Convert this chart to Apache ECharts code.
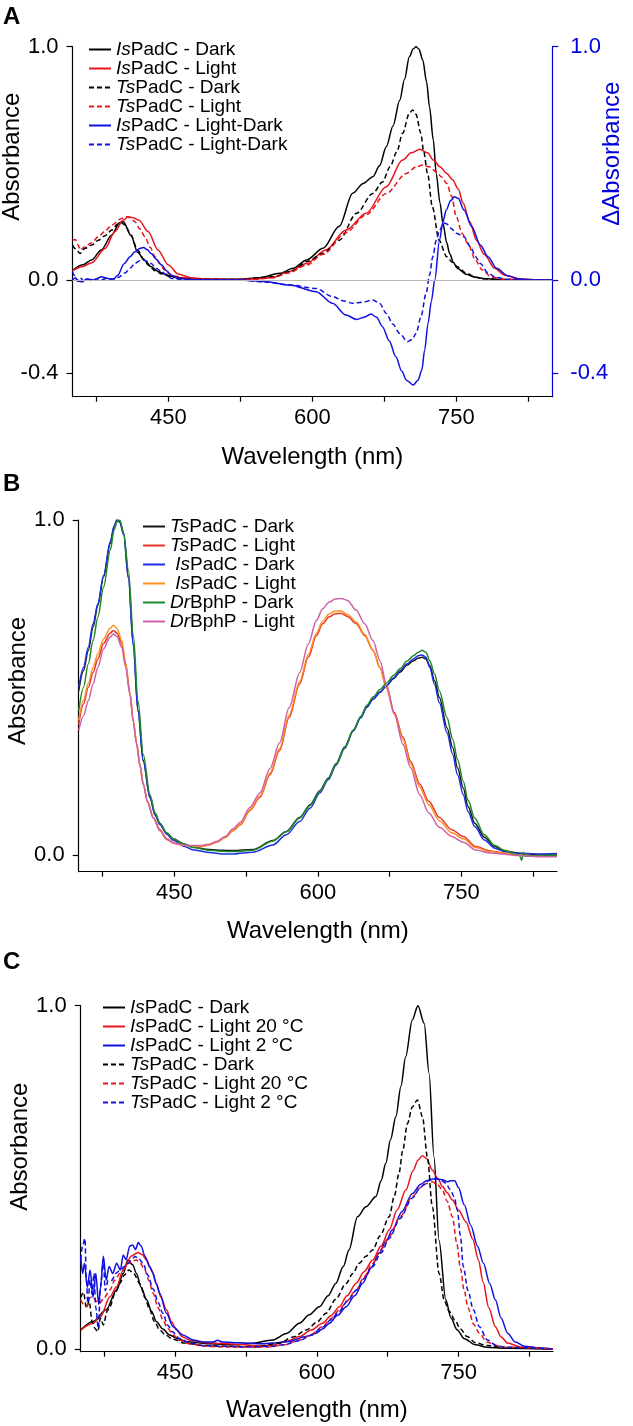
<!DOCTYPE html>
<html><head><meta charset="utf-8">
<script src="https://cdn.jsdelivr.net/npm/echarts@6/dist/echarts.min.js"></script>
<style>html,body{margin:0;padding:0;background:#fff}#c{width:633px;height:1426px}</style>
</head><body><div id="c"></div>
<script>
// ---------------- Panel A ----------------
const A_IsDark_nm = [350,360,370,380,391,399,403,411,418,425,432,440,446,453,460,477,500,524,545,566,580,594,611,628,642,653,663,670,677,684,691,696,701,705,708,711,715,719,722,726,729,733,736,740,743,747,751,760,770,780,800,850];
const A_IsDark = [0.040,0.064,0.086,0.129,0.193,0.246,0.250,0.190,0.118,0.085,0.057,0.036,0.026,0.016,0.010,0.005,0.003,0.003,0.010,0.029,0.050,0.086,0.136,0.230,0.372,0.414,0.443,0.490,0.571,0.660,0.770,0.860,0.957,0.990,1.000,0.990,0.943,0.850,0.743,0.600,0.457,0.330,0.243,0.160,0.114,0.075,0.050,0.025,0.012,0.005,0.002,0.000];
const A_IsLight_nm = [350,360,370,384,394,403,408,414,419,429,439,450,460,474,490,520,540,559,575,594,614,635,656,677,694,703,712,720,726,733,740,746,752,757,764,771,779,790,800,815,835,850];
const A_IsLight = [0.040,0.057,0.074,0.135,0.207,0.257,0.271,0.266,0.257,0.207,0.129,0.064,0.026,0.010,0.004,0.002,0.004,0.011,0.035,0.071,0.129,0.214,0.286,0.400,0.514,0.545,0.560,0.545,0.514,0.485,0.457,0.430,0.390,0.330,0.250,0.170,0.110,0.050,0.022,0.006,0.001,0.000];
const A_TsDark_nm = [350,354,358,363,370,377,384,391,397,401,405,410,418,424,429,436,443,452,460,480,520,559,580,594,611,628,646,663,673,681,688,694,701,704.5,708,713,716,720,725,732,740,746,751,760,770,780,800,850];
const A_TsDark = [0.150,0.130,0.114,0.136,0.150,0.171,0.190,0.214,0.240,0.245,0.235,0.200,0.129,0.090,0.064,0.040,0.026,0.014,0.009,0.004,0.002,0.014,0.040,0.079,0.114,0.171,0.286,0.371,0.420,0.486,0.550,0.629,0.714,0.729,0.710,0.629,0.550,0.457,0.314,0.171,0.100,0.075,0.057,0.030,0.012,0.005,0.001,0.000];
const A_TsLight_nm = [350,353,356,358,363,370,377,384,391,401,406,410,415,420,425.5,431,436,441,446,452,460,475,500,540,559,575,594,611,635,656,677,698,708,715,722,729,735,740,745,750,756,762,770,777,786,796,820,850];
const A_TsLight = [0.171,0.174,0.150,0.129,0.143,0.160,0.186,0.210,0.236,0.264,0.271,0.268,0.250,0.220,0.186,0.140,0.100,0.070,0.043,0.024,0.014,0.005,0.002,0.003,0.010,0.030,0.064,0.110,0.203,0.280,0.371,0.457,0.485,0.493,0.485,0.464,0.440,0.414,0.360,0.271,0.200,0.157,0.085,0.043,0.015,0.004,0.001,0.000];
const A_IsDiff_nm = [350,353,356,360,365,372,380,386,392,397,404,410,415,420,424,428,432,437,443,448,453,460,470,500,524,550,576,604,621,635,646,654,661,667,673,680,687,693,698,705,710,714,717,720.5,724,727.5,732.5,736,739.5,744,748,752,758,766,775,783,792,804,816,830,850];
const A_IsDiff = [0.000,0.010,-0.005,-0.007,0.004,0.000,0.014,0.008,0.000,0.020,0.071,0.100,0.121,0.135,0.139,0.130,0.114,0.090,0.064,0.040,0.021,0.008,0.002,0.000,0.000,-0.006,-0.021,-0.050,-0.100,-0.150,-0.169,-0.160,-0.146,-0.160,-0.200,-0.260,-0.329,-0.390,-0.429,-0.450,-0.430,-0.386,-0.300,-0.186,-0.090,0.000,0.171,0.250,0.300,0.340,0.357,0.350,0.300,0.229,0.150,0.100,0.050,0.017,0.004,0.000,0.000];
const A_TsDiff_nm = [350,352,355,358,362,366,370,375,380,385,392,398,404.6,410,415,420,424,428,432,437,443,448,453,465,500,524,550,576,604,621,633,642,652,663,670,677,684,691,699,704,708,713,718.5,722,725.5,729,732.5,737,740,745,750,758,765,770,775,783,791,805,850];
const A_TsDiff = [0.036,0.020,-0.005,0.010,-0.007,0.003,-0.003,0.005,0.000,0.007,0.005,0.012,0.030,0.050,0.071,0.083,0.086,0.080,0.071,0.050,0.036,0.020,0.007,0.002,0.000,0.000,-0.008,-0.021,-0.036,-0.071,-0.090,-0.100,-0.095,-0.086,-0.100,-0.143,-0.190,-0.229,-0.264,-0.255,-0.229,-0.160,-0.057,0.020,0.100,0.170,0.214,0.245,0.240,0.220,0.200,0.186,0.140,0.100,0.071,0.030,0.011,0.002,0.000];

// ---------------- Panel B ----------------
const B_Dark_nm = [350,355,360,365,370,376,383,387,390,393,397,402,407,412,417.5,424.5,430,435,442,449,460,470,487,500,512,532,553,567,581,592,602,611,619,628,637,645,651,658,665,672,679,686,693,700,705,709,713,717,722,727,735,741,746,752,757,764,774,785,795,810,830,850];
const B_TsDark = [0.490,0.550,0.610,0.680,0.745,0.830,0.930,0.980,1.000,0.995,0.960,0.830,0.631,0.432,0.282,0.172,0.120,0.093,0.065,0.048,0.033,0.023,0.016,0.014,0.013,0.016,0.043,0.070,0.112,0.150,0.192,0.230,0.272,0.322,0.372,0.412,0.442,0.466,0.486,0.506,0.526,0.546,0.566,0.580,0.588,0.590,0.585,0.565,0.520,0.471,0.380,0.320,0.260,0.200,0.145,0.095,0.053,0.025,0.012,0.005,0.000,0.000];
const B_IsDark = [0.500,0.560,0.620,0.690,0.750,0.835,0.935,0.982,1.000,0.993,0.955,0.825,0.625,0.428,0.280,0.170,0.118,0.090,0.062,0.044,0.026,0.015,0.007,0.003,0.003,0.008,0.030,0.060,0.100,0.140,0.185,0.225,0.268,0.318,0.370,0.410,0.440,0.466,0.486,0.506,0.528,0.550,0.570,0.585,0.595,0.597,0.590,0.560,0.510,0.455,0.365,0.300,0.240,0.180,0.130,0.085,0.045,0.020,0.010,0.005,0.003,0.004];
const B_DrDark_nm = [350,355,360,365,370,376,383,387,390,393,397,402,407,412,417.5,424.5,430,435,442,449,460,470,487,500,512,532,553,567,581,592,602,611,619,628,637,645,651,658,665,672,679,686,693,700,705,709,713,717,722,727,735,741,746,752,757,764,774,785,795,805,811,813,815,817,820,830,850];
const B_DrDark = [0.430,0.500,0.570,0.640,0.710,0.800,0.910,0.970,0.995,1.000,0.960,0.850,0.660,0.460,0.300,0.180,0.125,0.095,0.066,0.048,0.033,0.022,0.014,0.011,0.010,0.014,0.042,0.069,0.110,0.148,0.190,0.228,0.270,0.320,0.372,0.414,0.446,0.472,0.494,0.514,0.536,0.556,0.578,0.595,0.605,0.611,0.605,0.580,0.540,0.490,0.410,0.345,0.285,0.220,0.163,0.110,0.060,0.028,0.014,0.005,-0.002,-0.016,0.008,-0.004,-0.003,-0.003,0.000];
const B_Light_nm = [350,355,360,365,370,376,382.7,386.3,390,395,399,403.6,407,410.6,414,417.5,422,428,435,442,450,459,468,477,486,494,503,511.5,519,529,539.5,550,560,570,581,590,598.5,605,612,618,624.5,631,640,649,657.6,665,671.6,680,689,697,706.4,716,727,740,752,765,780,795,810,830,850];
const B_TsLight = [0.390,0.450,0.500,0.545,0.585,0.631,0.662,0.670,0.662,0.631,0.570,0.482,0.400,0.332,0.270,0.212,0.160,0.112,0.075,0.048,0.036,0.030,0.027,0.025,0.030,0.038,0.052,0.073,0.090,0.133,0.172,0.240,0.312,0.410,0.511,0.590,0.655,0.690,0.711,0.720,0.721,0.712,0.691,0.655,0.611,0.560,0.501,0.425,0.352,0.280,0.212,0.160,0.112,0.075,0.055,0.025,0.012,0.006,0.000,-0.004,-0.004];
const B_IsLight = [0.402,0.462,0.512,0.560,0.600,0.645,0.676,0.686,0.676,0.640,0.575,0.485,0.400,0.330,0.268,0.210,0.158,0.110,0.073,0.047,0.035,0.029,0.026,0.025,0.030,0.038,0.052,0.073,0.092,0.135,0.176,0.245,0.318,0.418,0.518,0.598,0.662,0.698,0.720,0.728,0.728,0.718,0.696,0.658,0.612,0.558,0.498,0.420,0.345,0.272,0.203,0.150,0.102,0.066,0.048,0.022,0.010,0.005,0.000,-0.003,-0.003];
const B_DrLight = [0.372,0.415,0.460,0.510,0.560,0.615,0.650,0.660,0.652,0.620,0.562,0.478,0.398,0.330,0.268,0.210,0.158,0.110,0.072,0.046,0.034,0.030,0.028,0.028,0.032,0.040,0.055,0.078,0.098,0.142,0.185,0.258,0.335,0.440,0.545,0.630,0.700,0.735,0.755,0.764,0.766,0.760,0.731,0.690,0.640,0.580,0.510,0.420,0.330,0.260,0.180,0.125,0.083,0.055,0.038,0.015,0.006,0.002,-0.002,-0.005,-0.005];

// ---------------- Panel C ----------------
const C_IsDark_nm = [350,363,377,388,395,400,405,409,414,419.7,425,430,437,444,453,462,487,512,530,553,568,581.6,592,602.7,612,620,628,634,643,652,662.6,668,673,678,683.7,689,694,701,707,713.6,718.8,724,729.3,736.5,742,748.5,756,768,780,800,850];
const C_IsDark = [0.055,0.080,0.114,0.172,0.220,0.259,0.245,0.220,0.180,0.143,0.110,0.080,0.058,0.041,0.030,0.021,0.015,0.012,0.016,0.026,0.045,0.075,0.100,0.123,0.155,0.191,0.240,0.288,0.385,0.414,0.444,0.490,0.541,0.610,0.677,0.765,0.851,0.958,1.000,0.949,0.803,0.560,0.317,0.143,0.090,0.056,0.030,0.012,0.005,0.002,0.000];
const C_IsL20_nm = [350,363,371,381,388,395,403.8,410.8,415,419.7,425,430,435,440.8,446,451.4,458,465,480,500,520,535,553,568,581.6,594,606,615,623.8,632,641.4,650,659,668,676.6,685,694.2,702,707,711.8,716,722.3,728,733,738,743.5,750,758,765,771,776,782,789,795,802,815,850];
const C_IsL20 = [0.055,0.075,0.094,0.152,0.181,0.230,0.271,0.281,0.275,0.259,0.230,0.191,0.150,0.114,0.080,0.055,0.035,0.026,0.019,0.016,0.013,0.009,0.011,0.022,0.036,0.055,0.075,0.097,0.123,0.155,0.191,0.225,0.259,0.300,0.347,0.405,0.463,0.520,0.550,0.563,0.555,0.521,0.497,0.473,0.455,0.434,0.405,0.370,0.320,0.260,0.195,0.120,0.065,0.035,0.017,0.006,0.000];
const C_IsL2_nm = [350,352,354,357,360,363,366,369,371,374,377,380,384,388,392,395,398,402,405,408,411,414,418,423,426.7,430,433.7,440.8,447.8,458,469,480,490,495,500,520,540,553,570,588.7,599,606,613.3,622,631,640,648.4,657,666,673,680,690,701.2,710,716,722.3,728,733,738,742,746,750,756,763,770,776.4,783,789,795,802,810,820,835,850];
const C_IsL2 = [0.270,0.220,0.250,0.180,0.230,0.150,0.220,0.130,0.180,0.270,0.200,0.240,0.220,0.250,0.230,0.274,0.260,0.300,0.303,0.290,0.310,0.300,0.270,0.240,0.220,0.190,0.162,0.104,0.065,0.041,0.026,0.020,0.020,0.025,0.020,0.018,0.015,0.017,0.022,0.036,0.046,0.058,0.075,0.098,0.123,0.155,0.191,0.235,0.279,0.313,0.347,0.400,0.453,0.480,0.490,0.495,0.495,0.493,0.487,0.490,0.490,0.470,0.420,0.360,0.300,0.250,0.190,0.143,0.090,0.046,0.020,0.008,0.003,0.000];
const C_TsDark_nm = [350,353,356,359,362,365,368,371,374,378,381,386,391.5,396,401,406,412.6,418,423,428,433.7,440,447.8,460,480,500,535,560,575,588.7,600,609.8,620,631,638,645,652,659,667,676.6,682,687,691,696,701,706.5,711.8,717,722.3,729.4,735,740,746,752,759,768,780,800,850];
const C_TsDark = [0.150,0.165,0.120,0.140,0.080,0.060,0.050,0.090,0.070,0.110,0.123,0.160,0.191,0.215,0.230,0.220,0.191,0.150,0.114,0.080,0.055,0.040,0.028,0.017,0.010,0.008,0.006,0.017,0.035,0.055,0.078,0.104,0.145,0.191,0.220,0.250,0.270,0.288,0.330,0.385,0.445,0.512,0.580,0.657,0.705,0.725,0.677,0.560,0.414,0.220,0.140,0.110,0.085,0.058,0.036,0.018,0.010,0.003,0.000];
const C_TsL20_nm = [350,353,356.6,360,363,366,370,375,381,386,391.5,400,409,413,418,422,426.7,432,437,442,447.8,455,465,480,500,550,565,581.6,594,606,615,623.8,632,641.4,650,659,668,676.6,688,701.2,710,716,722.3,728,733,738,743.5,748,752,756,760,766,772,780,790,800,850];
const C_TsL20 = [0.143,0.130,0.123,0.150,0.152,0.140,0.133,0.150,0.172,0.200,0.220,0.249,0.259,0.250,0.230,0.200,0.162,0.120,0.084,0.060,0.041,0.025,0.015,0.008,0.006,0.006,0.012,0.026,0.042,0.065,0.088,0.114,0.140,0.172,0.210,0.250,0.290,0.327,0.385,0.444,0.470,0.482,0.487,0.478,0.463,0.430,0.385,0.310,0.235,0.170,0.120,0.072,0.046,0.020,0.010,0.005,0.000];
const C_TsL2_nm = [350,352,354.5,356,357.6,360,362,364,366,368.6,371,373.9,376,379,383,387,392,396,400,404,407.3,411,416,421,426.7,432,437,442,447,455,465,480,500,520,550,565,581.6,594,606,615,623.8,632,641.4,650,659,668,676.6,688,701.2,710,718,726,731,736.5,741,745.3,748.7,752,755,760,765.7,772,780.6,790,800,850];
const C_TsL2 = [0.260,0.300,0.322,0.200,0.134,0.200,0.160,0.220,0.120,0.060,0.180,0.259,0.170,0.200,0.200,0.220,0.230,0.240,0.249,0.260,0.269,0.265,0.250,0.215,0.175,0.135,0.104,0.070,0.050,0.030,0.018,0.010,0.008,0.006,0.007,0.012,0.024,0.040,0.063,0.085,0.110,0.138,0.170,0.205,0.240,0.280,0.322,0.380,0.440,0.472,0.490,0.497,0.492,0.483,0.465,0.444,0.405,0.330,0.240,0.170,0.114,0.065,0.026,0.010,0.005,0.000];

// ---------------- tick labels ----------------
const X_TICKS = [375,450,525,600,675,750,825];
const X_LABELS = [450,600,750];
const A_Y_LABELS = [-0.4,0.0,1.0];
const BC_Y_LABELS = [0.0,1.0];

// ---------------- chart ----------------
const FONT = "'Liberation Sans', Arial, Helvetica, sans-serif";
const pts = (nm, v) => nm.map((x, i) => [x, v[i]]);
const BLACK='#000000', RED='#e8141c', BLUE='#1010e0';
const B_BLACK='#151515', B_RED='#e8352a', B_BLUE='#1f2fe0', B_ORANGE='#ff8f1f', B_GREEN='#1f8a2a', B_PINK='#cc62a8';
const DASH=[5,3];

function line(name, xi, yi, data, color, dashed, width){
  return {type:'line', name, xAxisIndex:xi, yAxisIndex:yi, data, symbol:'none', showSymbol:false,
    smooth:0.3, smoothMonotone:'x', animation:false, silent:true, clip:true,
    emphasis:{disabled:true},
    lineStyle:{color, width: width||1.5, type: dashed?DASH:'solid'}, itemStyle:{color}};
}
function xAx(gi, gap){
  return {type:'value', gridIndex:gi, min:350, max:850,
    name:'Wavelength (nm)', nameLocation:'middle', nameGap:gap, nameMoveOverlap:false,
    nameTextStyle:{fontFamily:FONT, fontSize:24, color:'#000'},
    axisLine:{show:true, onZero:false, lineStyle:{color:'#000', width:1.2}},
    axisTick:{show:true, inside:false, length:5, customValues:X_TICKS, lineStyle:{color:'#000', width:1.2}},
    axisLabel:{show:true, customValues:X_LABELS, margin:10, fontFamily:FONT, fontSize:22, color:'#000'},
    splitLine:{show:false}};
}
function yAx(gi, min, max, labels, pos, color, name, shift, margin){
  return {type:'value', gridIndex:gi, min, max, position:pos,
    name, nameLocation:'middle', nameGap:48, nameMoveOverlap:false,
    nameTextStyle:{fontFamily:FONT, fontSize:24, color, padding:[0,0,0,shift*2]},
    axisLine:{show:true, onZero:false, lineStyle:{color, width:1.2}},
    axisTick:{show:true, inside:false, length:6, customValues:labels, lineStyle:{color, width:1.2}},
    axisLabel:{show:true, customValues:labels, margin, fontFamily:FONT, fontSize:22, color,
      formatter:v => Number(v).toFixed(1)},
    splitLine:{show:false}};
}
function fmtLegend(name){
  const t = name.slice(name.indexOf('|')+1);
  const m = t.match(/^(\s*)(Is|Ts|Dr)(.*)$/);
  if(!m) return t;
  return (m[1] ? '{n|'+m[1]+'}' : '') + '{i|'+m[2]+'}{n|'+m[3]+'}';
}
const rich = {
  i:{fontStyle:'italic', fontSize:19, fontFamily:FONT, color:'#000', lineHeight:22.7},
  n:{fontSize:19, fontFamily:FONT, color:'#000', lineHeight:22.7}
};
function legend(names, left, top){
  return {show:true, orient:'vertical', left, top, padding:0, itemGap:0, itemWidth:22, itemHeight:10,
    selectedMode:false, data:names, formatter:fmtLegend,
    itemStyle:{opacity:0, borderWidth:0},
    textStyle:{fontFamily:FONT, fontSize:19, color:'#000', rich}};
}

const A_names = ['A|IsPadC - Dark','A|IsPadC - Light','A|TsPadC - Dark','A|TsPadC - Light','A|IsPadC - Light-Dark','A|TsPadC - Light-Dark'];
const B_names = ['B|TsPadC - Dark','B|TsPadC - Light','B| IsPadC - Dark','B| IsPadC - Light','B|DrBphP - Dark','B|DrBphP - Light'];
const C_names = ['C|IsPadC - Dark','C|IsPadC - Light 20 °C','C|IsPadC - Light 2 °C','C|TsPadC - Dark','C|TsPadC - Light 20 °C','C|TsPadC - Light 2 °C'];

const zeroLine = {silent:true, symbol:'none', label:{show:false}, animation:false,
  lineStyle:{color:'#b8b8b8', width:1, type:'solid'}, data:[{yAxis:0}]};

const sA5 = line(A_names[4],0,1,pts(A_IsDiff_nm,A_IsDiff),BLUE,false,1.5);
sA5.markLine = zeroLine;

const TITLE_STYLE = {fontFamily:FONT, fontSize:24, fontWeight:'bold', color:'#000'};
const option = {
  backgroundColor:'#fff',
  animation:false,
  title:[
    {text:'A', left:3, top:5, padding:0, textStyle:TITLE_STYLE},
    {text:'B', left:3, top:472, padding:0, textStyle:TITLE_STYLE},
    {text:'C', left:3, top:950, padding:0, textStyle:TITLE_STYLE}
  ],
  grid:[
    {left:72.5, top:46.7, width:479.8, height:350, containLabel:false, outerBoundsMode:'none'},
    {left:78.7, top:520, width:478.3, height:351.7, containLabel:false, outerBoundsMode:'none'},
    {left:80.7, top:1005.7, width:472.3, height:346, containLabel:false, outerBoundsMode:'none'}
  ],
  xAxis:[xAx(0,49), xAx(1,48), xAx(2,47)],
  yAxis:[
    yAx(0,-0.5,1.0,A_Y_LABELS,'left','#000','Absorbance',65,14),
    yAx(0,-0.5,1.0,A_Y_LABELS,'right','#0000dd','ΔAbsorbance',68,18),
    yAx(1,-0.05,1.0,BC_Y_LABELS,'left','#000','Absorbance',15,14),
    yAx(2,-0.008,1.0,BC_Y_LABELS,'left','#000','Absorbance',32,14)
  ],
  legend:[legend(A_names,88,40), legend(B_names,142,517), legend(C_names,102,998)],
  series:[
    line(A_names[0],0,0,pts(A_IsDark_nm,A_IsDark),BLACK,false),
    line(A_names[1],0,0,pts(A_IsLight_nm,A_IsLight),RED,false),
    line(A_names[2],0,0,pts(A_TsDark_nm,A_TsDark),BLACK,true),
    line(A_names[3],0,0,pts(A_TsLight_nm,A_TsLight),RED,true),
    sA5,
    line(A_names[5],0,1,pts(A_TsDiff_nm,A_TsDiff),BLUE,true),

    line(B_names[0],1,2,pts(B_Dark_nm,B_TsDark),B_BLACK,false),
    line(B_names[1],1,2,pts(B_Light_nm,B_TsLight),B_RED,false),
    line(B_names[2],1,2,pts(B_Dark_nm,B_IsDark),B_BLUE,false),
    line(B_names[3],1,2,pts(B_Light_nm,B_IsLight),B_ORANGE,false),
    line(B_names[4],1,2,pts(B_DrDark_nm,B_DrDark),B_GREEN,false),
    line(B_names[5],1,2,pts(B_Light_nm,B_DrLight),B_PINK,false),

    line(C_names[0],2,3,pts(C_IsDark_nm,C_IsDark),BLACK,false),
    line(C_names[1],2,3,pts(C_IsL20_nm,C_IsL20),RED,false),
    line(C_names[2],2,3,pts(C_IsL2_nm,C_IsL2),BLUE,false),
    line(C_names[3],2,3,pts(C_TsDark_nm,C_TsDark),BLACK,true),
    line(C_names[4],2,3,pts(C_TsL20_nm,C_TsL20),RED,true),
    line(C_names[5],2,3,pts(C_TsL2_nm,C_TsL2),BLUE,true)
  ]
};
const chart = echarts.init(document.getElementById('c'), null, {renderer:'canvas'});
chart.setOption(option);
</script></body></html>
